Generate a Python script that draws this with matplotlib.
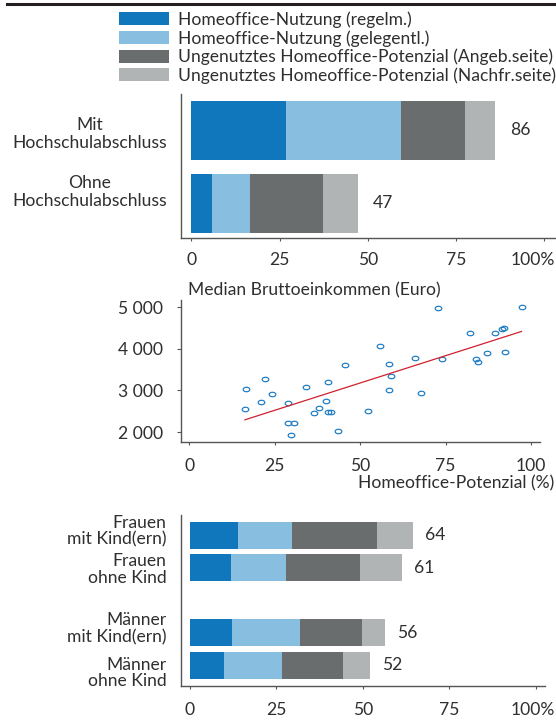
import numpy as np
import matplotlib
matplotlib.use("Agg")
import matplotlib.pyplot as plt
from matplotlib.lines import Line2D
from matplotlib.path import Path
from matplotlib.transforms import ScaledTranslation

FS = 12.6
plt.rcParams['font.family'] = ['Lato', 'DejaVu Sans']
plt.rcParams['font.size'] = FS
TXT = '#2f2f2f'
SP = '#555555'

series = ['Homeoffice-Nutzung (regelm.)', 'Homeoffice-Nutzung (gelegentl.)',
          'Ungenutztes Homeoffice-Potenzial (Angeb.seite)',
          'Ungenutztes Homeoffice-Potenzial (Nachfr.seite)']
colors = ['#1177bd', '#88bfe0', '#6a6d6e', '#b1b4b5']

# Panel 1: education
edu_cats = ['Mit\nHochschulabschluss', 'Ohne\nHochschulabschluss']
edu_vals = [[26.7, 5.8], [32.8, 10.9], [18.2, 20.6], [8.4, 9.8]]
edu_totals = [86, 47]

# Panel 2: scatter
pot = [16.6, 16.3, 21.0, 22.2, 24.3, 29.0, 29.0, 30.5, 29.9, 34.2, 36.4, 38.1,
       39.9, 40.5, 40.5, 41.6, 43.4, 45.7, 52.4, 55.9, 58.5, 58.4, 59.1, 65.9,
       67.9, 72.8, 73.8, 82.2, 83.8, 84.6, 87.0, 89.5, 91.5, 92.1, 92.5, 97.2]
inc = [3035, 2546, 2714, 3267, 2922, 2698, 2225, 2225, 1936, 3091, 2457, 2570,
       2754, 3203, 2481, 2481, 2024, 3604, 2497, 4078, 3636, 3011, 3348, 3781,
       2931, 4992, 3749, 4374, 3765, 3676, 3893, 4382, 4471, 4503, 3917, 5016]
y_ticks = [2000, 3000, 4000, 5000]
y_ticklabels = ['2 000', '3 000', '4 000', '5 000']

# Panel 3: gender / children
gen_cats = ['Frauen\nmit Kind(ern)', 'Frauen\nohne Kind', 'Männer\nmit Kind(ern)', 'Männer\nohne Kind']
gen_pos = [0, 1, 3, 4]
gen_vals = [[13.8, 11.9, 12.1, 9.8], [15.6, 15.9, 19.7, 16.7],
            [24.6, 21.3, 17.9, 17.7], [10.5, 12.2, 6.7, 7.9]]
gen_totals = [64, 61, 56, 52]

x_ticks = [0, 25, 50, 75, 100]
x_ticklabels = ['0', '25', '50', '75', '100%']

W, H = 556, 720
fig = plt.figure(figsize=(W / 100, H / 100), dpi=100)

def rect(l, t, r, b):
    return [l / W, 1 - b / H, (r - l) / W, (b - t) / H]

def shift(txt, dx_px, dy_px):
    txt.set_transform(txt.get_transform() +
                      ScaledTranslation(dx_px / 100, dy_px / 100, fig.dpi_scale_trans))

def style(ax):
    for s in ['top', 'right']:
        ax.spines[s].set_visible(False)
    for s in ['left', 'bottom']:
        ax.spines[s].set_color(SP)
        ax.spines[s].set_linewidth(1.0)
    ax.tick_params(colors=SP, labelcolor=TXT, width=0.8)

def stacked(ax, pos, vals, totals, height, off_pt):
    left = np.zeros(len(pos))
    handles = []
    for i, v in enumerate(vals):
        h = ax.barh(pos, v, left=left, height=height, color=colors[i], label=series[i])
        handles.append(h)
        left = left + np.array(v)
    for p, lft, t in zip(pos, left, totals):
        ax.annotate(str(t), (lft, p), xytext=(off_pt, 0), textcoords='offset points',
                    va='center', ha='left', color=TXT)
    return handles

def pct_axis(ax, pad, last_dx):
    ax.set_xticks(x_ticks)
    ax.set_xticklabels(x_ticklabels)
    ax.tick_params(axis='x', length=2.5, pad=pad)
    last = ax.get_xticklabels()[-1]
    last.set_ha('right')
    shift(last, last_dx, 0)

# ---- top panel
ax1 = fig.add_axes(rect(180.9, 94, 556, 238.3))
style(ax1)
handles = stacked(ax1, [0, 1], edu_vals, edu_totals, 0.81, 11.0)
ax1.set_xlim(-3.0, 103.4)
ax1.set_ylim(1.48, -0.5)
ax1.set_yticks([0, 1])
ax1.set_yticklabels(edu_cats, multialignment='center', linespacing=1.15)
ax1.tick_params(axis='y', length=0, pad=10.2)
pct_axis(ax1, 7.3, 11)
for lab, dy in zip(ax1.get_yticklabels(), [-1, 14]):
    shift(lab, 0, dy)

# ---- scatter panel
ax2 = fig.add_axes(rect(180.7, 300, 540, 441.7))
style(ax2)
circ = Path.unit_circle()
ell = Path(circ.vertices * np.array([1.0, 0.67]), circ.codes)
ax2.plot(pot, inc, linestyle='none', marker=ell, markersize=4.8,
         markerfacecolor='none', markeredgecolor='#1a7ac4', markeredgewidth=0.85)
slope, icpt = np.polyfit(pot, inc, 1)
xx = np.array([min(pot), max(pot)])
ax2.plot(xx, slope * xx + icpt, color='#d0202e', lw=0.9)
ax2.set_xlim(-2.5, 102.6)
ax2.set_ylim(1767, 5176)
ax2.set_xticks(x_ticks)
ax2.set_xticklabels(['0', '25', '50', '75', '100'])
ax2.set_yticks(y_ticks)
ax2.set_yticklabels(y_ticklabels)
ax2.tick_params(axis='x', length=2.5, pad=9.3)
ax2.tick_params(axis='y', length=3, pad=10)
fig.text(188.3 / W, 1 - 290 / H, 'Median Bruttoeinkommen (Euro)', ha='left', va='center', color=TXT)
fig.text(554 / W, 1 - 483.3 / H, 'Homeoffice-Potenzial (%)', ha='right', va='center', color=TXT)

# ---- bottom panel
ax3 = fig.add_axes(rect(180.9, 515, 545, 685.7))
style(ax3)
stacked(ax3, gen_pos, gen_vals, gen_totals, 0.83, 8.3)
ax3.set_xlim(-2.6, 102.6)
ax3.set_ylim(4.63, -0.625)
ax3.set_yticks(gen_pos)
ax3.set_yticklabels(gen_cats, multialignment='right', linespacing=1.05)
ax3.tick_params(axis='y', length=0, pad=10.2)
pct_axis(ax3, 9.3, 19.3)
for lab, dy in zip(ax3.get_yticklabels(), [6, 0, 6, -6]):
    shift(lab, 0, dy)

# ---- legend
fs_px = FS * 100 / 72
fig.legend(handles=handles, labels=series, loc='upper left',
           bbox_to_anchor=(118.8 / W, 1 - 11.5 / H), frameon=False,
           borderpad=0, borderaxespad=0, handlelength=50 / fs_px,
           handleheight=13.3 / fs_px, handletextpad=8.7 / fs_px,
           labelspacing=0.118, labelcolor=TXT)

# top rule
fig.add_artist(Line2D([7 / W, 1], [1 - 3.5 / H, 1 - 3.5 / H], color='#231f20', lw=2.2))

fig.savefig('out.png', dpi=100)
